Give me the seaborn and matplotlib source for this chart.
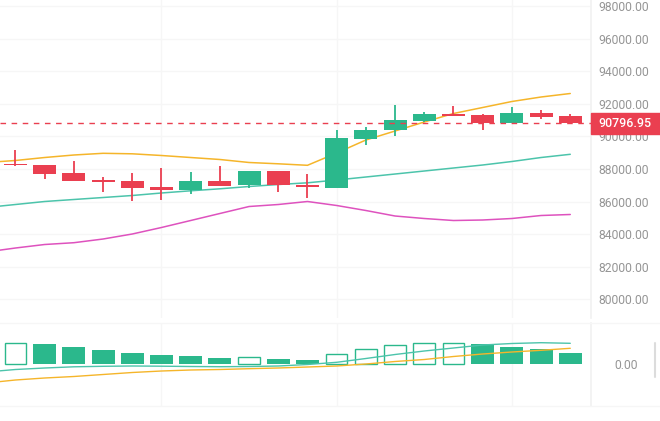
import matplotlib
matplotlib.use("Agg")
import matplotlib.pyplot as plt
import matplotlib.transforms as mtransforms
from matplotlib.lines import Line2D
from matplotlib.patches import Rectangle
import numpy as np
import pandas as pd
import seaborn as sns

# --- candles (20 visible) ---
opens = [88307, 88230, 87755, 87325, 87264, 86896, 86730, 87264, 87000, 87896,
         87018, 86853, 89859, 90374, 90963, 91374, 91313, 90822, 91417, 91233]
highs = [89166, 88240, 88490, 87527, 87755, 88061, 87816, 88184, 87896, 87896,
         87674, 90411, 90595, 91908, 91515, 91865, 91400, 91785, 91638, 91374]
lows = [88200, 87386, 87245, 86608, 86055, 86098, 86485, 86975, 86853, 86589,
        86202, 86853, 89472, 90043, 90900, 91270, 90411, 90822, 91049, 90797]
closes = [88230, 87712, 87282, 87202, 86853, 86730, 87264, 86975, 87896, 87018,
          86877, 89920, 90411, 91024, 91374, 91270, 90840, 91417, 91190, 90796.95]
last_price = 90796.95

# --- bollinger bands (first point is one bar before the visible window) ---
boll_upper = [88399, 88522, 88705, 88859, 88963, 88932, 88828, 88705, 88583, 88399, 88319,
              88227, 88982, 89779, 90331, 90883, 91405, 91773, 92141, 92417, 92632]
boll_mid = [85638, 85822, 86006, 86129, 86251, 86374, 86528, 86663, 86785, 86926, 87049,
            87153, 87325, 87509, 87693, 87877, 88061, 88245, 88460, 88705, 88902]
boll_lower = [82908, 83153, 83368, 83478, 83705, 84012, 84411, 84840, 85270, 85699, 85822,
              86006, 85761, 85454, 85116, 84963, 84840, 84871, 84963, 85147, 85209]

# --- MACD panel ---
macd_hist = [840, 812, 692, 572, 452, 344, 304, 252, 280, 212,
             144, 412, 600, 760, 840, 845, 800, 692, 612, 452]
macd_dif = [-320, -220, -160, -112, -92, -80, -88, -100, -108, -100, -80,
            -20, 68, 220, 380, 520, 640, 760, 820, 852, 828]
macd_dea = [-760, -640, -560, -500, -420, -340, -280, -240, -220, -188, -160,
            -120, -80, 0, 100, 180, 300, 400, 480, 548, 628]

price_ticks = [80000, 82000, 84000, 86000, 88000, 90000, 92000, 94000, 96000, 98000]

GREEN = "#2bb88c"
RED = "#ea3f50"
ORANGE = "#f5b52a"
TEAL = "#4cc4ab"
MAGENTA = "#de52be"
LABEL = "#959595"
GRID = "#f6f6f6"

sns.set_theme(style="white")
plt.rcParams["font.family"] = ["Roboto", "DejaVu Sans"]

fig = plt.figure(figsize=(6.6, 4.21), dpi=100)
ax = fig.add_axes([0, 1 - 318 / 421, 591 / 660, 318 / 421])
axm = fig.add_axes([0, 1 - 406 / 421, 591 / 660, 83 / 421])

n = len(opens)
idx = np.arange(n)
band_x = np.arange(-1, n)
xlim = (-0.53, 19.71)

# grid
for a in (ax, axm):
    for gx in (5, 11, 17):
        a.axvline(gx, color=GRID, lw=1, zorder=0)
for t in price_ticks:
    ax.axhline(t, color=GRID, lw=1, zorder=0)

# bollinger bands
bands = pd.DataFrame({"x": band_x, "upper": boll_upper, "mid": boll_mid, "lower": boll_lower})
sns.lineplot(data=bands, x="x", y="upper", ax=ax, color=ORANGE, lw=1.1, zorder=2)
sns.lineplot(data=bands, x="x", y="mid", ax=ax, color=TEAL, lw=1.1, zorder=2)
sns.lineplot(data=bands, x="x", y="lower", ax=ax, color=MAGENTA, lw=1.1, zorder=2)

# candles
o = np.array(opens)
c = np.array(closes)
up = c >= o
colors = np.where(up, GREEN, RED)
ax.vlines(idx, lows, highs, colors=colors, lw=1.3, zorder=3)
body_h = np.maximum(np.abs(c - o), 90)
ax.bar(idx, body_h, bottom=np.minimum(o, c), width=0.79, color=colors, zorder=4, linewidth=0)

# last price line + label
ax.axhline(last_price, color=RED, lw=1, ls=(0, (4, 4)), zorder=5)
trans = mtransforms.blended_transform_factory(ax.transAxes, ax.transData)
ax.add_patch(Rectangle((1.0, last_price - 620), 69 / 591, 1240, transform=trans,
                       color=RED, clip_on=False, zorder=6))
ax.text(1.0 + 34 / 591, last_price, f"{last_price:.2f}", transform=trans, color="white",
        ha="center", va="center", fontsize=8.9, fontweight="medium", zorder=7, clip_on=False)

ax.set_xlim(*xlim)
ax.set_ylim(78859, 98368)
ax.yaxis.tick_right()
ax.set_yticks(price_ticks)
ax.set_yticklabels([f"{t:.2f}" for t in price_ticks])
ax.tick_params(axis="y", length=0, pad=5, labelsize=8.7, labelcolor=LABEL)
ax.set_xticks([])
ax.set_xlabel("")
ax.set_ylabel("")

# MACD histogram (hollow when rising)
h = np.array(macd_hist)
rising = np.r_[True, h[1:] > h[:-1]]
axm.bar(idx[~rising], h[~rising], width=0.79, color=GREEN, linewidth=0, zorder=3)
axm.bar(idx[rising], h[rising], width=0.74, facecolor="white", edgecolor=GREEN, linewidth=1, zorder=3)
macd = pd.DataFrame({"x": band_x, "dif": macd_dif, "dea": macd_dea})
sns.lineplot(data=macd, x="x", y="dif", ax=axm, color=TEAL, lw=1, zorder=4)
sns.lineplot(data=macd, x="x", y="dea", ax=axm, color=ORANGE, lw=1, zorder=4)
axm.set_xlim(*xlim)
axm.set_ylim(-1680, 1640)
axm.yaxis.tick_right()
axm.set_yticks([0])
axm.set_yticklabels(["0.00"])
axm.tick_params(axis="y", length=0, pad=17, labelsize=8.7, labelcolor=LABEL)
axm.set_xticks([])
axm.set_xlabel("")
axm.set_ylabel("")

for a in (ax, axm):
    for s in a.spines.values():
        s.set_visible(False)
    a.spines["right"].set_visible(True)
    a.spines["right"].set_color("#f2f2f2")
    a.set_facecolor("none")

# panel separators
for yy in (323, 406):
    fig.add_artist(Line2D([0, 1], [1 - yy / 421] * 2, color=GRID, lw=1))
fig.add_artist(Line2D([655 / 660] * 2, [1 - 343 / 421, 1 - 377 / 421], color="#dcdcdc", lw=1.5))

fig.savefig("out.png", dpi=100)
